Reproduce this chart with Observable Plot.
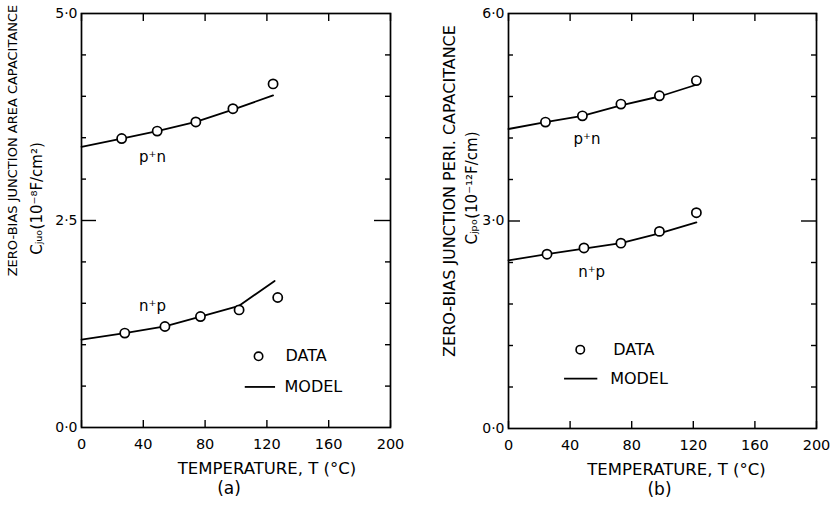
<!DOCTYPE html>
<html>
<head>
<meta charset="utf-8">
<script src="https://cdn.jsdelivr.net/npm/d3@7"></script>
<script src="https://cdn.jsdelivr.net/npm/@observablehq/plot@0.6"></script>
<style>
  html, body { margin: 0; padding: 0; background: #fff; }
  #wrap { display: flex; width: 834px; height: 507px; overflow: hidden; }
  #wrap svg { display: block; }
</style>
</head>
<body>
<div id="wrap"></div>
<script>
// ---------- Data ----------
// Panel (a): zero-bias junction area capacitance, 1e-8 F/cm^2
const aTempPN = [26, 49, 74, 98, 124];
const aDataPN = [3.49, 3.58, 3.69, 3.85, 4.15];
const aModelTempPN = [0, 26, 49, 74, 98, 124];
const aModelPN = [3.39, 3.49, 3.58, 3.69, 3.84, 4.01];

const aTempNP = [28, 54, 77, 102, 127];
const aDataNP = [1.14, 1.22, 1.34, 1.42, 1.57];
const aModelTempNP = [0, 28, 54, 77, 102, 125];
const aModelNP = [1.06, 1.14, 1.22, 1.34, 1.47, 1.77];

// Panel (b): zero-bias junction periphery capacitance, 1e-12 F/cm
const bTempPN = [24, 48, 73, 98, 122];
const bDataPN = [4.43, 4.52, 4.69, 4.81, 5.03];
const bModelTempPN = [0, 24, 48, 73, 98, 122];
const bModelPN = [4.33, 4.43, 4.52, 4.67, 4.80, 4.97];

const bTempNP = [25, 49, 73, 98, 122];
const bDataNP = [2.52, 2.61, 2.68, 2.85, 3.12];
const bModelTempNP = [0, 25, 49, 73, 98, 122];
const bModelNP = [2.43, 2.52, 2.60, 2.68, 2.82, 2.98];

// Ticks / labels
const xTicks = [0, 40, 80, 120, 160, 200];
const aYLabels = [0, 2.5, 5.0];
const aYMinor = [0.5, 1, 1.5, 2, 3, 3.5, 4, 4.5];
const aYMajor = [2.5];
const bYLabels = [0, 3.0, 6.0];
const bYMinor = [0.6, 1.2, 1.8, 2.4, 3.6, 4.2, 4.8, 5.4];
const bYMajor = [3.0];

const seriesNames = ["p\u207An", "n\u207Ap"];
const legendLabels = ["DATA", "MODEL"];
const xTitle = "TEMPERATURE, T (\u00B0C)";
const aYTitle1 = "ZERO-BIAS JUNCTION AREA CAPACITANCE";
const aYTitle2 = "C\u2C7C\u1D64\u2092(10\u207B\u2078F/cm\u00B2)";
const bYTitle1 = "ZERO-BIAS JUNCTION PERI. CAPACITANCE";
const bYTitle2 = "C\u2C7C\u209A\u2092(10\u207B\u00B9\u00B2F/cm)";

// ---------- helpers ----------
const zip = (xs, ys, type) => xs.map((x, i) => ({T: x, C: ys[i], type}));
const fmt = d => d.toFixed(1).replace(".", "\u00B7");
const FONT = "DejaVu Sans";

function panel(o) {
  const W = 417, H = 507;
  const plotW = W - o.ml - o.mr, plotH = H - o.mt - o.mb;
  const data = [...zip(o.tPN, o.dPN, "pn"), ...zip(o.tNP, o.dNP, "np")];
  const model = [...zip(o.mtPN, o.mPN, "pn"), ...zip(o.mtNP, o.mNP, "np")];
  return Plot.plot({
    width: W, height: H,
    marginLeft: o.ml, marginRight: o.mr, marginTop: o.mt, marginBottom: o.mb,
    x: {domain: [0, 200]},
    y: {domain: o.yDomain},
    style: {fontFamily: FONT, color: "black", background: "white", overflow: "visible"},
    marks: [
      // inward ticks
      Plot.tickX(xTicks, {x: d => d, insetTop: plotH - 7, strokeWidth: 1.4}),
      Plot.tickX(xTicks, {x: d => d, insetBottom: plotH - 8, strokeWidth: 1.4}),
      Plot.tickY(o.yMinor, {y: d => d, insetRight: plotW - 5, strokeWidth: 1.4}),
      Plot.tickY(o.yMinor, {y: d => d, insetLeft: plotW - 5, strokeWidth: 1.4}),
      Plot.tickY(o.yMajor, {y: d => d, insetRight: plotW - o.majL, strokeWidth: 1.4}),
      Plot.tickY(o.yMajor, {y: d => d, insetLeft: plotW - o.majR, strokeWidth: 1.4}),
      Plot.frame({stroke: "black", strokeWidth: 1.7}),
      Plot.axisX({ticks: xTicks, tickSize: 0, tickPadding: 11, fontSize: 14.5, label: null}),
      Plot.axisY({ticks: o.yLabels, tickSize: 0, tickPadding: 4, fontSize: 14, tickFormat: fmt, label: null}),
      // model lines and data points
      Plot.line(model, {x: "T", y: "C", z: "type", stroke: "black", strokeWidth: 1.8}),
      Plot.dot(data, {x: "T", y: "C", r: 4.6, stroke: "black", fill: "white", strokeWidth: 1.7}),
      // series labels
      Plot.text([seriesNames[0]], {x: o.lblPN[0], y: o.lblPN[1], text: d => d, fontSize: 15}),
      Plot.text([seriesNames[1]], {x: o.lblNP[0], y: o.lblNP[1], text: d => d, fontSize: 15}),
      // legend
      Plot.dot([0], {x: o.legDot[0], y: o.legDot[1], r: 4.2, stroke: "black", fill: "white", strokeWidth: 1.6}),
      Plot.text([legendLabels[0]], {x: o.legText1[0], y: o.legText1[1], text: d => d, textAnchor: "start", fontSize: 16}),
      Plot.ruleY([o.legLine[2]], {x1: o.legLine[0], x2: o.legLine[1], strokeWidth: 1.8}),
      Plot.text([legendLabels[1]], {x: o.legText2[0], y: o.legText2[1], text: d => d, textAnchor: "start", fontSize: 16}),
      // axis titles
      Plot.text([xTitle], {frameAnchor: "bottom", textAnchor: "middle", lineAnchor: "middle", dx: o.xtDx, dy: 41, fontSize: 16.5}),
      Plot.text([o.tag], {frameAnchor: "bottom", textAnchor: "middle", lineAnchor: "middle", dx: o.tagDx, dy: 61, fontSize: 17}),
      Plot.text([o.yt1], {frameAnchor: "left", textAnchor: "middle", lineAnchor: "middle", dx: o.yt1Dx, dy: o.yt1Dy, rotate: -90, fontSize: o.yt1Size}),
      Plot.text([o.yt2], {frameAnchor: "left", textAnchor: "middle", lineAnchor: "middle", dx: o.yt2Dx, dy: o.yt2Dy, rotate: -90, fontSize: 15})
    ]
  });
}

const wrap = document.getElementById("wrap");
wrap.appendChild(panel({
  ml: 81, mr: 27, mt: 13, mb: 80, yDomain: [0, 5],
  tPN: aTempPN, dPN: aDataPN, tNP: aTempNP, dNP: aDataNP,
  mtPN: aModelTempPN, mPN: aModelPN, mtNP: aModelTempNP, mNP: aModelNP,
  yLabels: aYLabels, yMinor: aYMinor, yMajor: aYMajor, majL: 15, majR: 16,
  lblPN: [46, 3.26], lblNP: [46, 1.47],
  legDot: [114.6, 0.86], legText1: [132, 0.86], legLine: [106, 125.6, 0.49], legText2: [131.4, 0.49],
  xtDx: 31, tag: "(a)", tagDx: -7,
  yt1: aYTitle1, yt1Dx: -69, yt1Dy: -80, yt1Size: 13,
  yt2: aYTitle2, yt2Dx: -44, yt2Dy: -22
}));
wrap.appendChild(panel({
  ml: 91, mr: 18, mt: 13, mb: 79, yDomain: [0, 6],
  tPN: bTempPN, dPN: bDataPN, tNP: bTempNP, dNP: bDataNP,
  mtPN: bModelTempPN, mPN: bModelPN, mtNP: bModelTempNP, mNP: bModelNP,
  yLabels: bYLabels, yMinor: bYMinor, yMajor: bYMajor, majL: 12, majR: 15,
  lblPN: [51, 4.19], lblNP: [54, 2.26],
  legDot: [46.6, 1.14], legText1: [68, 1.14], legLine: [36.4, 58, 0.72], legText2: [66, 0.72],
  xtDx: 14, tag: "(b)", tagDx: -3,
  yt1: bYTitle1, yt1Dx: -59, yt1Dy: -30, yt1Size: 16,
  yt2: bYTitle2, yt2Dx: -36, yt2Dy: -33
}));
</script>
</body>
</html>
